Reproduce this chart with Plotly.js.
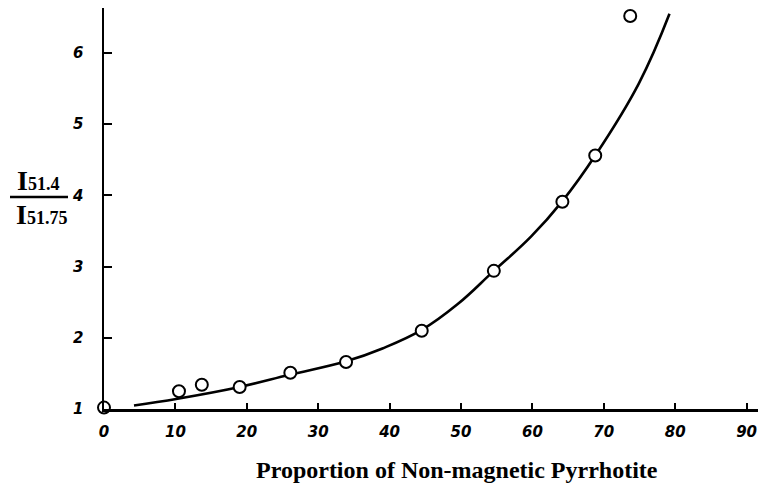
<!DOCTYPE html>
<html>
<head>
<meta charset="utf-8">
<script src="https://cdn.plot.ly/plotly-3.0.1.min.js"></script>
<style>html,body{margin:0;padding:0;background:#fff;}#chart{width:758px;height:483px;}</style>
</head>
<body>
<div id="chart"></div>
<script>
// Measured data points (proportion %, intensity ratio)
const pointX = [0, 10.5, 13.7, 19.0, 26.1, 33.9, 44.5, 54.6, 64.2, 68.8, 73.7];
const pointY = [1.02, 1.25, 1.34, 1.31, 1.51, 1.66, 2.10, 2.94, 3.91, 4.56, 6.52];
// Hand-drawn fitted curve
const curveX = [4.2, 10.3, 19.0, 26.0, 33.9, 39.0, 44.5, 49.5, 54.6, 59.8, 64.2, 68.8, 74.9, 79.2];
const curveY = [1.05, 1.145, 1.31, 1.48, 1.67, 1.85, 2.11, 2.47, 2.94, 3.42, 3.92, 4.56, 5.57, 6.55];
// Tick labels
const xTicks = [0, 10, 20, 30, 40, 50, 60, 70, 80, 90];
const yTicks = [1, 2, 3, 4, 5, 6];

const W = 758, H = 483, L = 104, R = 0, T = 8, B = 74;
const pw = W - L - R, ph = H - T - B;
const px = v => (v - L) / pw;          // pixel x -> paper x
const py = v => (H - B - v) / ph;      // pixel y -> paper y

const tickFont = {family: 'DejaVu Sans', size: 15, color: '#000', style: 'italic', weight: 'bold'};
const serif = 'Liberation Serif, Times New Roman, serif';

const traces = [
  {x: curveX, y: curveY, mode: 'lines', type: 'scatter',
   line: {color: '#000', width: 2.6, shape: 'spline', smoothing: 1.2}, hoverinfo: 'skip', showlegend: false},
  {x: pointX, y: pointY, mode: 'markers', type: 'scatter', cliponaxis: false,
   marker: {symbol: 'circle', size: 12, color: '#fff', line: {color: '#000', width: 2}}, showlegend: false}
];

const layout = {
  width: W, height: H,
  margin: {l: L, r: R, t: T, b: B, pad: 0},
  paper_bgcolor: '#fff', plot_bgcolor: '#fff',
  showlegend: false,
  xaxis: {range: [0, pw / 7.14], tickvals: xTicks, ticktext: xTicks.map(String),
          showline: true, linecolor: '#000', linewidth: 2.5, ticks: 'inside', ticklen: 6, tickwidth: 2,
          tickcolor: '#000', showgrid: false, zeroline: false, tickfont: tickFont, ticklabelstandoff: 7},
  yaxis: {range: [1, 1 + ph / 71.2], tickvals: yTicks, ticktext: yTicks.map(String),
          showline: true, linecolor: '#000', linewidth: 2.5, ticks: 'inside', ticklen: 8, tickwidth: 2,
          tickcolor: '#000', showgrid: false, zeroline: false, tickfont: tickFont, ticklabelstandoff: 15},
  shapes: [
    {type: 'line', xref: 'paper', yref: 'paper', x0: px(10), x1: px(68), y0: py(197), y1: py(197),
     line: {color: '#000', width: 2.5}}
  ],
  annotations: [
    {xref: 'paper', yref: 'paper', x: px(38), y: py(180), xanchor: 'center', yanchor: 'middle', showarrow: false,
     text: "I<span style='font-size:18px'>51.4</span>", font: {family: serif, size: 28, color: '#000', weight: 'bold'}},
    {xref: 'paper', yref: 'paper', x: px(41), y: py(215), xanchor: 'center', yanchor: 'middle', showarrow: false,
     text: "I<span style='font-size:18px'>51.75</span>", font: {family: serif, size: 28, color: '#000', weight: 'bold'}},
    {xref: 'paper', yref: 'paper', x: px(457), y: py(470), xanchor: 'center', yanchor: 'middle', showarrow: false,
     text: 'Proportion of Non-magnetic Pyrrhotite', font: {family: serif, size: 24, color: '#000', weight: 'bold'}}
  ]
};

Plotly.newPlot('chart', traces, layout, {displayModeBar: false, staticPlot: true});
</script>
</body>
</html>
